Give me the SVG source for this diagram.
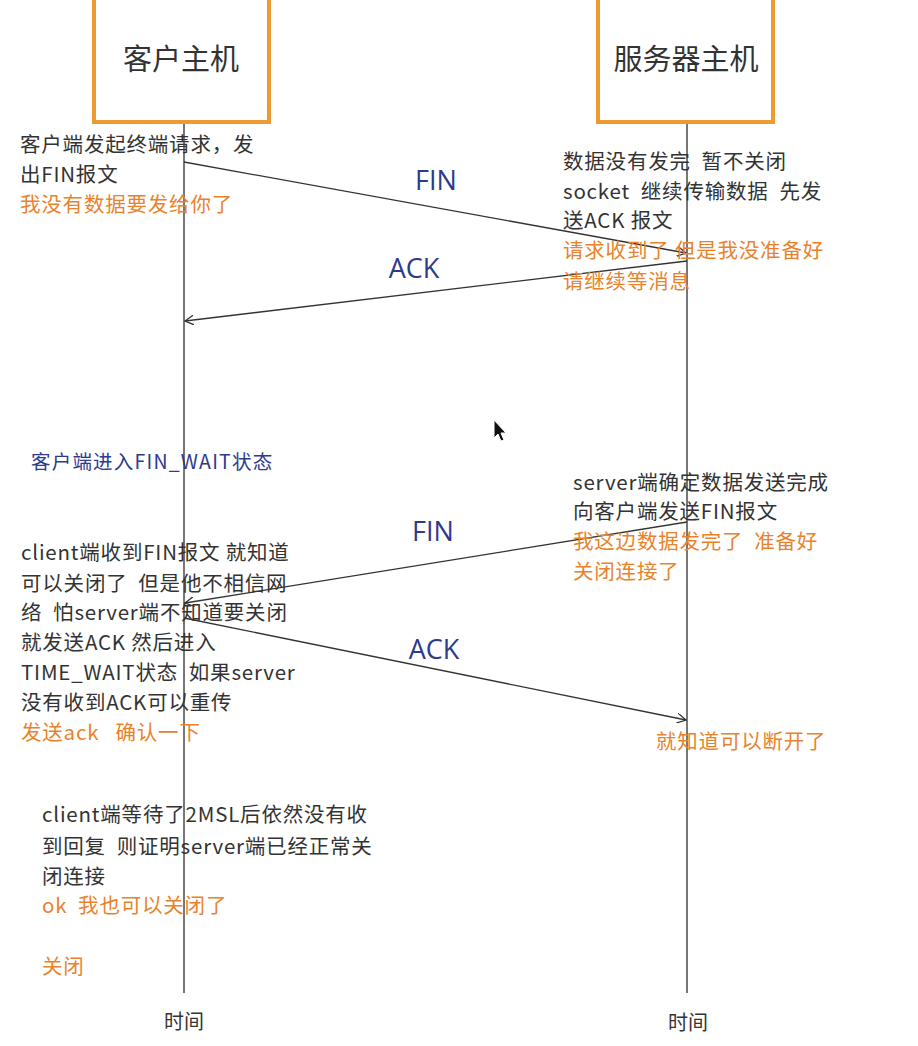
<svg xmlns="http://www.w3.org/2000/svg" width="918" height="1046" viewBox="0 0 918 1046">
<defs>
<style>
.box{fill:#fff;stroke:#EE9A33;stroke-width:4}
.title{font-family:"Noto Sans CJK SC",sans-serif;font-size:29px;fill:#333;text-anchor:middle}
.t{font-family:"Noto Sans CJK SC",sans-serif;font-size:20.5px;letter-spacing:0.8px;fill:#333;white-space:pre}
.o{fill:#E8832C}
.b{fill:#2E3A8C}
.lbl{font-family:"Open Sans","Liberation Sans",sans-serif;font-size:27px;fill:#2E3A8C;text-anchor:middle}
.life{stroke:#555;stroke-width:1.6;fill:none}
.msg{stroke:#333;stroke-width:1.3;fill:none;marker-end:url(#arr)}
.time{font-family:"Noto Sans CJK SC",sans-serif;font-size:20px;fill:#333;text-anchor:middle}
</style>
<marker id="arr" viewBox="0 0 10 10" refX="9" refY="5" markerWidth="10" markerHeight="10" markerUnits="userSpaceOnUse" orient="auto">
<path d="M0,0 L9,5 L0,10" fill="none" stroke="#333" stroke-width="1.3"/>
</marker>
</defs>
<rect width="918" height="1046" fill="#fff"/>

<g id="client">
<rect class="box" x="94" y="-10" width="175" height="132"/>
<text class="title" x="181" y="70">客户主机</text>
<line class="life" x1="184" y1="124" x2="184" y2="993"/>
<text class="time" x="184" y="1029">时间</text>
</g>

<g id="server">
<rect class="box" x="598" y="-10" width="175" height="132"/>
<text class="title" x="686" y="70">服务器主机</text>
<line class="life" x1="687" y1="124" x2="687" y2="993"/>
<text class="time" x="688" y="1030">时间</text>
</g>

<g id="connectors">
<line class="msg" x1="184" y1="162" x2="686" y2="253"/>
<line class="msg" x1="687" y1="261" x2="185" y2="321"/>
<line class="msg" x1="687" y1="522" x2="185" y2="603"/>
<line class="msg" x1="184" y1="618" x2="686" y2="720"/>
<text class="lbl" x="436" y="190">FIN</text>
<text class="lbl" x="414" y="278">ACK</text>
<text class="lbl" x="433" y="541">FIN</text>
<text class="lbl" x="434" y="659">ACK</text>
</g>

<g id="note-client-fin">
<text class="t" x="20" y="152">客户端发起终端请求，发</text>
<text class="t" x="20" y="182">出FIN报文</text>
<text class="t o" x="20" y="212">我没有数据要发给你了</text>
</g>

<g id="note-server-ack">
<text class="t" x="563" y="169">数据没有发完  暂不关闭</text>
<text class="t" x="563" y="199">socket  继续传输数据  先发</text>
<text class="t" x="563" y="228">送ACK 报文</text>
<text class="t o" x="563" y="258">请求收到了 但是我没准备好</text>
<text class="t o" x="563" y="289">请继续等消息</text>
</g>

<g id="note-fin-wait">
<text class="t b" x="31" y="469" style="font-size:19.5px;letter-spacing:1.2px">客户端进入FIN_WAIT状态</text>
</g>

<g id="note-server-fin">
<text class="t" x="573" y="490">server端确定数据发送完成</text>
<text class="t" x="573" y="519">向客户端发送FIN报文</text>
<text class="t o" x="573" y="549">我这边数据发完了  准备好</text>
<text class="t o" x="573" y="579">关闭连接了</text>
</g>

<g id="note-client-ack">
<text class="t" x="21" y="560">client端收到FIN报文 就知道</text>
<text class="t" x="21" y="591">可以关闭了  但是他不相信网</text>
<text class="t" x="21" y="620">络  怕server端不知道要关闭</text>
<text class="t" x="21" y="650">就发送ACK 然后进入</text>
<text class="t" x="21" y="680">TIME_WAIT状态  如果server</text>
<text class="t" x="21" y="710">没有收到ACK可以重传</text>
<text class="t o" x="21" y="740">发送ack   确认一下</text>
</g>

<g id="note-server-close">
<text class="t o" x="656" y="749">就知道可以断开了</text>
</g>

<g id="note-client-close">
<text class="t" x="42" y="822">client端等待了2MSL后依然没有收</text>
<text class="t" x="42" y="854">到回复  则证明server端已经正常关</text>
<text class="t" x="42" y="884">闭连接</text>
<text class="t o" x="42" y="913">ok  我也可以关闭了</text>
<text class="t o" x="42" y="974">关闭</text>
</g>

<path d="M494,420 L494,438 L498,434 L501,441 L504,440 L501,433 L506,433 Z" fill="#111" stroke="#fff" stroke-width="1"/>
</svg>
